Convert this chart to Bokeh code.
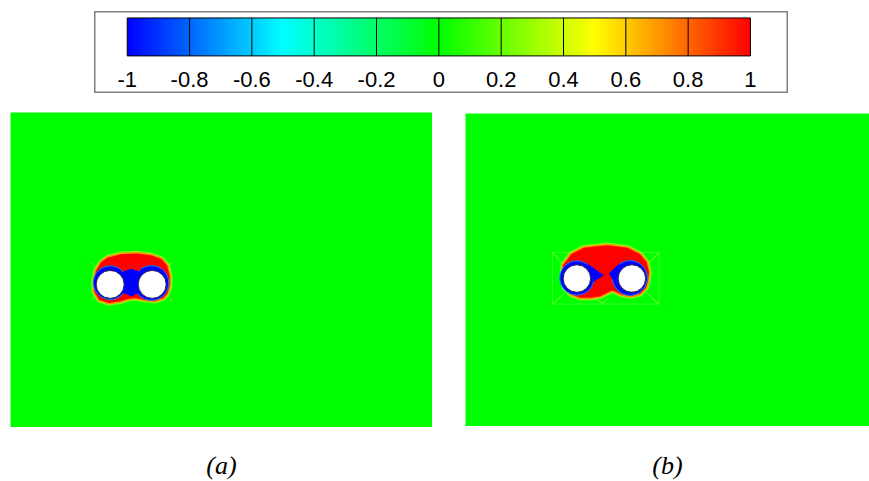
import numpy as np
from bokeh.plotting import figure
from bokeh.layouts import column, row
from bokeh.models import Spacer, Range1d
from bokeh.core.properties import value
from bokeh.embed import file_html
from bokeh.resources import INLINE

# ---------------- data ----------------
tick_values = [-1.0, -0.8, -0.6, -0.4, -0.2, 0.0, 0.2, 0.4, 0.6, 0.8, 1.0]
tick_labels = ["-1", "-0.8", "-0.6", "-0.4", "-0.2", "0", "0.2", "0.4", "0.6", "0.8", "1"]
cmap_stops = [-1.0, -0.5, 0.0, 0.5, 1.0]
cmap_r = [0, 0, 0, 255, 255]
cmap_g = [0, 255, 255, 255, 0]
cmap_b = [255, 255, 0, 0, 0]

panel_labels = ["(a)", "(b)"]

# panel (a): L/D = 1.5, coordinates in cylinder diameters, origin midway between cylinders
cyl_a_x = [-0.75, 0.75]
cyl_a_y = [0.0, 0.0]
ring_a_x = [-0.75, 0.72]
ring_a_y = [0.06, 0.05]
ring_a_r = [0.60, 0.62]
red_a_x = [-1.10, -0.86, -0.38, 0.21, 0.75, 1.11, 1.31, 1.40, 1.40, 1.32, 1.16, 0.87,
           0.45, 0.15, -0.09, -0.38, -0.80, -1.16, -1.34, -1.36, -1.28]
red_a_y = [0.80, 0.98, 1.10, 1.13, 1.06, 0.92, 0.68, 0.32, -0.04, -0.33, -0.51, -0.61,
           -0.57, -0.51, -0.54, -0.63, -0.69, -0.57, -0.28, 0.08, 0.50]
neck_a_x = [-0.30, 0.0, 0.30, 0.30, 0.0, -0.30]
neck_a_y = [0.45, 0.56, 0.45, -0.30, -0.42, -0.30]
mesh_a_x0 = [-1.45, 1.47, -1.45, 1.45]
mesh_a_y0 = [0.80, 0.80, -0.60, -0.60]
mesh_a_x1 = [-1.28, 1.32, -1.28, 1.30]
mesh_a_y1 = [0.62, 0.64, -0.42, -0.44]

# panel (b): L/D = 2.0
cyl_b_x = [-1.0, 1.0]
cyl_b_y = [0.0, 0.0]
ring_b_x = [-1.0, 0.93]
ring_b_y = [0.02, 0.02]
ring_b_r = [0.62, 0.63]
red_b_x = [-1.55, -1.53, -1.22, -0.74, 0.10, 0.83, 1.31, 1.56, 1.65, 1.61, 1.53, 1.31,
           0.95, 0.59, 0.29, 0.10, -0.14, -0.50, -0.87, -1.22, -1.47]
red_b_y = [0.00, 0.49, 0.91, 1.15, 1.24, 1.15, 0.91, 0.61, 0.24, -0.12, -0.36, -0.58,
           -0.67, -0.60, -0.46, -0.55, -0.67, -0.73, -0.73, -0.60, -0.36]
wedge_b_x = [[-0.62, -0.02, -0.38], [0.55, 0.16, 0.45]]
wedge_b_y = [[0.55, 0.12, -0.12], [0.55, 0.18, -0.25]]
box_b_x = [-1.89, 1.98, 1.98, -1.89, -1.89]
box_b_y = [0.95, 0.95, -0.93, -0.93, 0.95]
mesh_b_x0 = [-1.89, 1.98, -1.89, 1.98, -0.32, -0.08]
mesh_b_y0 = [0.95, 0.95, -0.93, -0.93, -0.73, -0.90]
mesh_b_x1 = [-1.53, 1.56, -1.47, 1.56, -0.08, 0.16]
mesh_b_y1 = [0.55, 0.49, -0.55, -0.55, -0.90, -0.73]

GREEN = "#00ff00"


def cmap(v):
    r = np.interp(v, cmap_stops, cmap_r)
    g = np.interp(v, cmap_stops, cmap_g)
    b = np.interp(v, cmap_stops, cmap_b)
    return ["#%02x%02x%02x" % (int(round(a)), int(round(c)), int(round(d))) for a, c, d in zip(r, g, b)]


# ---------------- colour bar ----------------
cb = figure(width=694, height=82, x_range=Range1d(-1.105, 1.122), y_range=Range1d(-0.99, 1.17),
            output_backend="svg", toolbar_location=None, min_border=0)
cb.axis.visible = False
cb.grid.visible = False
cb.outline_line_color = "#808080"
cb.outline_line_width = 2
edges = np.linspace(tick_values[0], tick_values[-1], 241)
lefts = edges[:-1]
rights = np.minimum(edges[1:] + 0.004, tick_values[-1])
mids = 0.5 * (edges[:-1] + edges[1:])
cb.quad(left=lefts, right=rights, bottom=0, top=1, fill_color=cmap(mids), line_color=None)
cb.segment(x0=tick_values[1:-1], y0=0, x1=tick_values[1:-1], y1=1, line_color="black", line_width=1)
cb.quad(left=[tick_values[0]], right=[tick_values[-1]], bottom=0, top=1, fill_color=None,
        line_color="black", line_width=1)
cb.text(x=tick_values, y=-0.61, text=tick_labels, text_align="center", text_baseline="middle",
        text_font=value("Liberation Sans"), text_font_size="22px", text_color="black")


def panel(width, height, xr, yr):
    p = figure(width=width, height=height, x_range=Range1d(*xr), y_range=Range1d(*yr),
               output_backend="svg", toolbar_location=None, min_border=0)
    p.axis.visible = False
    p.grid.visible = False
    p.outline_line_color = None
    p.background_fill_color = GREEN
    return p


# ---------------- panel (a) ----------------
pa = panel(422, 315, (-4.31, 10.76), (-5.11, 6.14))
pa.segment(x0=mesh_a_x0, y0=mesh_a_y0, x1=mesh_a_x1, y1=mesh_a_y1, line_color="#d8ff40",
           line_alpha=0.5, line_width=1)
pa.patch(red_a_x, red_a_y, fill_color="#ffff00", line_color="#c8ff20", line_width=4, line_alpha=0.6)
pa.patch(red_a_x, red_a_y, fill_color="#ff0000", line_color="#ff9000", line_width=1.5)
pa.circle(x=ring_a_x, y=ring_a_y, radius=ring_a_r, fill_color="#0000ff", line_color="#0080ff", line_width=1)
pa.patch(neck_a_x, neck_a_y, fill_color="#0000ff", line_color=None)
pa.circle(x=cyl_a_x, y=cyl_a_y, radius=0.5, fill_color="white", line_color="#202050", line_width=1)

# ---------------- panel (b) ----------------
pb = panel(404, 313, (-5.05, 9.64), (-5.38, 6.00))
pb.line(box_b_x, box_b_y, line_color="#a0ff80", line_alpha=0.35, line_width=1)
pb.segment(x0=mesh_b_x0, y0=mesh_b_y0, x1=mesh_b_x1, y1=mesh_b_y1, line_color="#d8ff40",
           line_alpha=0.6, line_width=1)
pb.patch(red_b_x, red_b_y, fill_color="#ffff00", line_color="#c8ff20", line_width=4, line_alpha=0.6)
pb.patch(red_b_x, red_b_y, fill_color="#ff0000", line_color="#ff9000", line_width=1.5)
pb.circle(x=ring_b_x, y=ring_b_y, radius=ring_b_r, fill_color="#0000ff", line_color="#0080ff", line_width=1)
pb.patches(wedge_b_x, wedge_b_y, fill_color="#0000ff", line_color=None)
pb.circle(x=cyl_b_x, y=cyl_b_y, radius=0.5, fill_color="white", line_color="#202050", line_width=1)


# ---------------- panel captions ----------------
def caption(width, txt):
    c = figure(width=width, height=54, x_range=Range1d(0, 1), y_range=Range1d(0, 1),
               output_backend="svg", toolbar_location=None, min_border=0)
    c.axis.visible = False
    c.grid.visible = False
    c.outline_line_color = None
    c.text(x=[0.5], y=[0.30], text=[txt], text_align="center", text_baseline="middle",
           text_font=value("Liberation Serif"), text_font_style="italic", text_font_size="26px",
           text_color="black")
    return c


ca = caption(422, panel_labels[0])
cbb = caption(404, panel_labels[1])

layout = column(
    Spacer(height=11),
    row(Spacer(width=94), cb),
    Spacer(height=19),
    row(Spacer(width=10), pa, Spacer(width=33), column(Spacer(height=1), pb)),
    row(Spacer(width=10), ca, Spacer(width=33), cbb),
)

open("out.html", "w").write(file_html(layout, INLINE))
